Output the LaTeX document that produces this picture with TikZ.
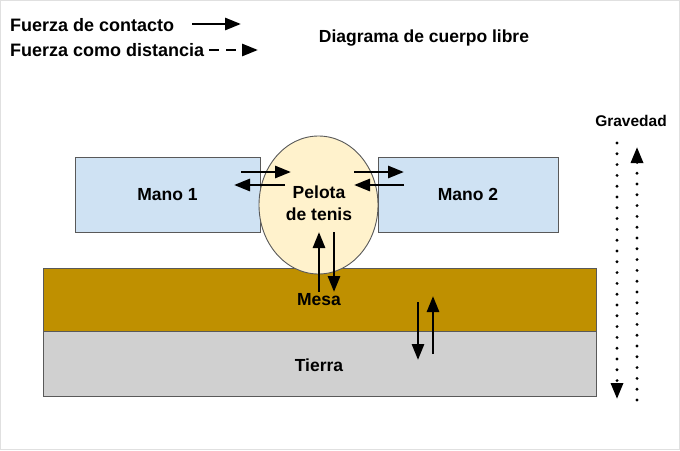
\documentclass[tikz,border=0pt]{standalone}
\usepackage{fontspec}
\setmainfont{Liberation Sans}
\usetikzlibrary{arrows.meta,shapes.geometric}
\definecolor{handblue}{HTML}{CFE2F3}
\definecolor{ballyellow}{HTML}{FFF2CC}
\definecolor{tablegold}{HTML}{BF9000}
\definecolor{earthgray}{HTML}{D0D0D0}
\tikzset{
  box/.style={draw=black!65, line width=0.9pt},
  lbl/.style={font=\bfseries\fontsize{17.5}{21}\selectfont, align=center},
  tip/.style={-{Triangle[length=16pt,width=12pt]}},
  force/.style={line width=2.8pt, tip},
  dotforce/.style={line width=3.2pt, dash pattern=on 0pt off 10.8pt, line cap=round, tip},
}
\begin{document}
\begin{tikzpicture}[x=1pt,y=-1pt]
\useasboundingbox (0,0) rectangle (680,450);
\fill[white] (0,0) rectangle (680,450);
\draw[black!12] (0.5,0.5) rectangle (679.5,449.5);
% legend
\node[anchor=west, font=\bfseries\fontsize{18}{21}\selectfont, inner sep=0pt] (l1) at (10,25) {Fuerza de contacto};
\node[anchor=west, font=\bfseries\fontsize{18}{21}\selectfont, inner sep=0pt] (l2) at (10,50) {Fuerza como distancia};
\coordinate (a1s) at (192,24); \coordinate (a1e) at (241,24);
\draw[force] (a1s) -- (a1e);
\coordinate (a2s) at (209,50); \coordinate (a2e) at (258,50);
\draw[line width=2.8pt, dash pattern=on 10pt off 7pt, tip] (a2s) -- (a2e);
\node[lbl] (title) at (424,38) {Diagrama de cuerpo libre};
% bodies
\node[box, fill=handblue, minimum width=185pt, minimum height=75pt, lbl] (m1) at (167.5,194.5) {Mano 1};
\node[box, fill=handblue, minimum width=180pt, minimum height=75pt, lbl] (m2) at (468,194.5) {Mano 2};
\node[box, fill=tablegold, minimum width=553pt, minimum height=63pt] (mesa) at (319.5,299.5) {};
\node[box, fill=earthgray, minimum width=553pt, minimum height=65pt] (tierra) at (319.5,363.5) {};
\node[lbl] (mesat) at (319,300) {Mesa};
\node[lbl] (tierrat) at (319,365) {Tierra};
\node[box, fill=ballyellow, ellipse, minimum width=119pt, minimum height=138pt, inner sep=0pt] (ball) at (318.5,205) {};
\node[lbl, font=\bfseries\fontsize{17.5}{22}\selectfont] (ballt) at (319,203) {Pelota\\de tenis};
% forces
\coordinate (h1a) at (241,172); \coordinate (h1b) at (291,172);
\draw[force] (h1a) -- (h1b);
\coordinate (h2a) at (285,185); \coordinate (h2b) at (234,185);
\draw[force] (h2a) -- (h2b);
\coordinate (h3a) at (354,172); \coordinate (h3b) at (404,172);
\draw[force] (h3a) -- (h3b);
\coordinate (h4a) at (404,185); \coordinate (h4b) at (354,185);
\draw[force] (h4a) -- (h4b);
\coordinate (v1a) at (319,292); \coordinate (v1b) at (319,232);
\draw[force] (v1a) -- (v1b);
\coordinate (v2a) at (334,232); \coordinate (v2b) at (334,292);
\draw[force] (v2a) -- (v2b);
\coordinate (v3a) at (418,302); \coordinate (v3b) at (418,360);
\draw[force] (v3a) -- (v3b);
\coordinate (v4a) at (433,354); \coordinate (v4b) at (433,296);
\draw[force] (v4a) -- (v4b);
% gravity
\node[font=\bfseries\fontsize{15.5}{17}\selectfont] (grav) at (631,121) {Gravedad};
\coordinate (g1a) at (617,143); \coordinate (g1b) at (617,399);
\draw[dotforce] (g1a) -- (g1b);
\coordinate (g2a) at (637,400); \coordinate (g2b) at (637,147);
\draw[dotforce] (g2a) -- (g2b);
\end{tikzpicture}
\end{document}
